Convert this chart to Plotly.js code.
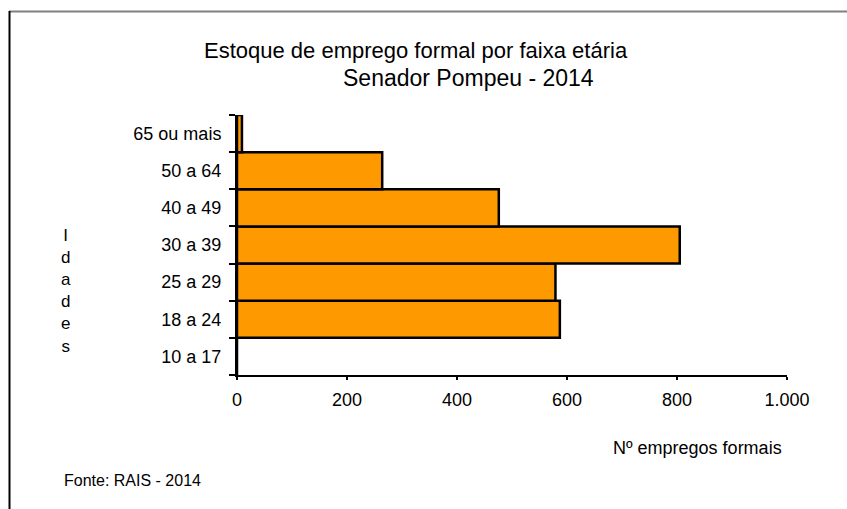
<!DOCTYPE html>
<html>
<head>
<meta charset="utf-8">
<script src="https://cdn.plot.ly/plotly-3.0.1.min.js"></script>
<style>html,body{margin:0;padding:0;background:#fff;}#chart{width:847px;height:509px;}</style>
</head>
<body>
<div id="chart"></div>
<script>
const categories = ['10 a 17', '18 a 24', '25 a 29', '30 a 39', '40 a 49', '50 a 64', '65 ou mais'];
const empregos = [0, 587, 579, 805, 476, 264, 9];
const xTicks = [0, 200, 400, 600, 800, 1000];
const titleLine1 = 'Estoque de emprego formal por faixa etária';
const titleLine2 = 'Senador Pompeu - 2014';
const yTitle = 'Idades';
const xTitle = 'Nº empregos formais';
const sourceNote = 'Fonte: RAIS - 2014';

const W = 847, H = 509;
const L = 237, R = 60, T = 115, B = 134;
const pw = W - L - R, ph = H - T - B;
const px = v => (v - L) / pw;
const py = v => (H - B - v) / ph;
const FONT = 'Liberation Sans, Arial, sans-serif';

const trace = {
  type: 'bar',
  orientation: 'h',
  y: categories,
  x: empregos,
  marker: { color: '#FF9900', line: { color: '#000000', width: 2.5 } },
  hoverinfo: 'x+y'
};

const layout = {
  width: W, height: H,
  margin: { l: L, r: R, t: T, b: B, pad: 0 },
  paper_bgcolor: '#ffffff', plot_bgcolor: '#ffffff',
  separators: ',.',
  bargap: 0,
  showlegend: false,
  font: { family: FONT, color: '#000000', size: 18 },
  xaxis: {
    range: [0, 1000], tickvals: xTicks, separatethousands: true,
    showgrid: false, zeroline: false,
    showline: true, linecolor: '#000', linewidth: 2,
    ticks: 'outside', ticklen: 3, tickwidth: 2, tickcolor: '#000',
    ticklabelstandoff: 4,
    tickfont: { family: FONT, size: 18, color: '#000' },
    fixedrange: true
  },
  yaxis: {
    type: 'category', categoryorder: 'array', categoryarray: categories,
    range: [-0.5, 6.5], tickson: 'boundaries',
    showgrid: false, zeroline: false,
    showline: true, linecolor: '#000', linewidth: 2,
    ticks: 'outside', ticklen: 6, tickwidth: 2, tickcolor: '#000',
    ticklabelstandoff: 10,
    tickfont: { family: FONT, size: 18, color: '#000' },
    fixedrange: true
  },
  annotations: [
    { text: titleLine1, xref: 'paper', yref: 'paper', x: px(416), y: py(50), xanchor: 'center', yanchor: 'middle', showarrow: false, font: { family: FONT, size: 22, color: '#000' } },
    { text: titleLine2, xref: 'paper', yref: 'paper', x: px(468), y: py(78), xanchor: 'center', yanchor: 'middle', showarrow: false, font: { family: FONT, size: 23, color: '#000' } },
    { text: yTitle.split('').join('<br>'), xref: 'paper', yref: 'paper', x: px(66), y: py(291), xanchor: 'center', yanchor: 'middle', showarrow: false, font: { family: FONT, size: 17, color: '#000' } },
    { text: xTitle, xref: 'paper', yref: 'paper', x: px(697), y: py(448), xanchor: 'center', yanchor: 'middle', showarrow: false, font: { family: FONT, size: 18, color: '#000' } },
    { text: sourceNote, xref: 'paper', yref: 'paper', x: px(62), y: py(481), xanchor: 'left', yanchor: 'middle', showarrow: false, font: { family: FONT, size: 16, color: '#000' } }
  ],
  shapes: [
    { type: 'line', xref: 'paper', yref: 'paper', x0: px(9), x1: px(847), y0: py(11.5), y1: py(11.5), line: { color: '#808080', width: 2 } },
    { type: 'line', xref: 'paper', yref: 'paper', x0: px(9.5), x1: px(9.5), y0: py(11), y1: py(509), line: { color: '#000000', width: 2 } }
  ]
};

Plotly.newPlot('chart', [trace], layout, { displayModeBar: false, staticPlot: true });
</script>
</body>
</html>
